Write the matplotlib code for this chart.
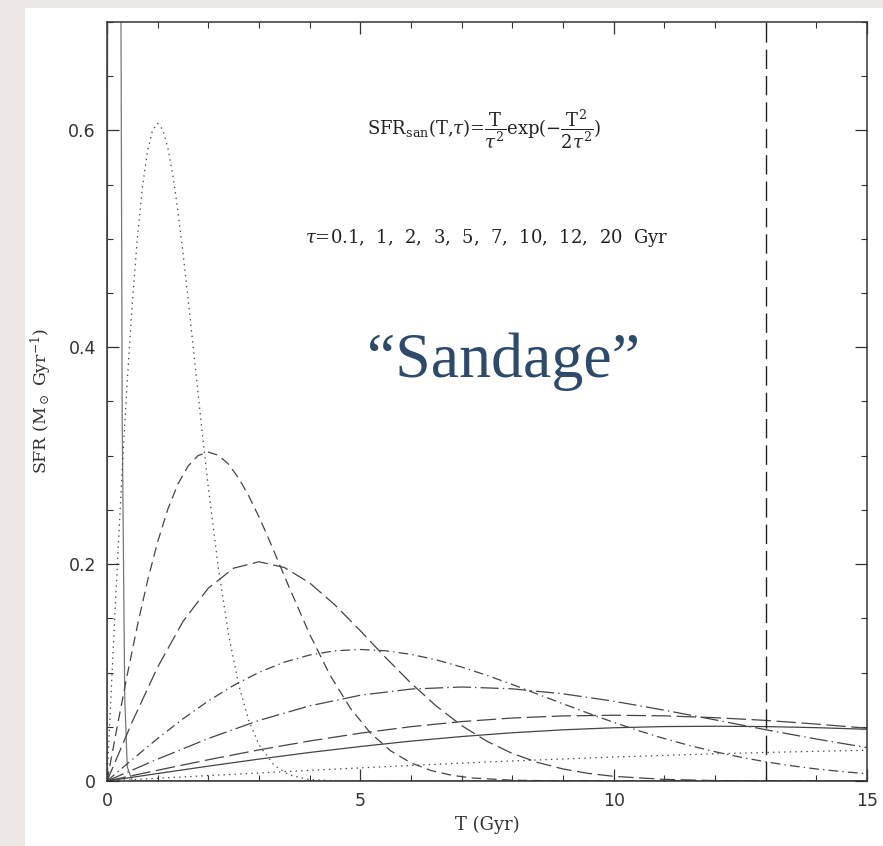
import matplotlib
matplotlib.use("Agg")
import matplotlib.pyplot as plt
from matplotlib.patches import Rectangle

# Sandage SFR curves (T in Gyr, SFR in Msun/Gyr)

# tau = 0.1 Gyr
t_01 = [0.0, 0.1, 0.2, 0.25, 0.3, 0.35, 0.4, 0.5, 15.0]
sfr_01 = [0.0, 6.07, 2.71, 1.10, 0.333, 0.077, 0.013, 0.0002, 0.0]

# tau = 1 Gyr
t_1 = [0.0, 0.1, 0.2, 0.3, 0.4, 0.5, 0.6, 0.7, 0.8, 0.9, 1.0, 1.1, 1.2,
       1.3, 1.4, 1.5, 1.6, 1.7, 1.8, 1.9, 2.0, 2.2, 2.4, 2.6, 2.8, 3.0,
       3.3, 3.6, 4.0, 4.5, 5.0, 15.0]
sfr_1 = [0.0, 0.0995, 0.196, 0.2868, 0.3692, 0.4412, 0.5012, 0.5479,
         0.5809, 0.6003, 0.6065, 0.6007, 0.5841, 0.5585, 0.5254, 0.487,
         0.4448, 0.4007, 0.3562, 0.3125, 0.2707, 0.1956, 0.1347, 0.0885,
         0.0555, 0.0333, 0.0143, 0.0055, 0.0013, 0.0002, 0.0, 0.0]

# tau = 2 Gyr
t_2 = [0.0, 0.2, 0.4, 0.6, 0.8, 1.0, 1.2, 1.4, 1.6, 1.8, 2.0, 2.2, 2.4,
       2.6, 2.8, 3.0, 3.2, 3.6, 4.0, 4.4, 4.8, 5.2, 5.6, 6.0, 6.4, 6.8,
       7.2, 8.0, 9.0, 10.0, 15.0]
sfr_2 = [0.0, 0.0498, 0.098, 0.1434, 0.1846, 0.2206, 0.2506, 0.2739,
         0.2904, 0.3002, 0.3033, 0.3004, 0.2921, 0.2792, 0.2627, 0.2435,
         0.2224, 0.1781, 0.1353, 0.0978, 0.0674, 0.0442, 0.0278, 0.0167,
         0.0096, 0.0053, 0.0028, 0.0007, 0.0001, 0.0, 0.0]

# tau = 3 Gyr
t_3 = [0.0, 0.5, 1.0, 1.5, 2.0, 2.5, 3.0, 3.5, 4.0, 4.5, 5.0, 5.5, 6.0,
       6.5, 7.0, 7.5, 8.0, 8.5, 9.0, 9.5, 10.0, 11.0, 12.0, 15.0]
sfr_3 = [0.0, 0.0548, 0.1051, 0.1471, 0.1779, 0.1963, 0.2022, 0.1969,
         0.1827, 0.1623, 0.1386, 0.1138, 0.0902, 0.0691, 0.0511, 0.0366,
         0.0254, 0.0171, 0.0111, 0.0070, 0.0043, 0.0015, 0.0004, 0.0]

# tau = 5 Gyr
t_5 = [0.0, 0.5, 1.0, 1.5, 2.0, 2.5, 3.0, 3.5, 4.0, 4.5, 5.0, 5.5, 6.0,
       6.5, 7.0, 7.5, 8.0, 8.5, 9.0, 9.5, 10.0, 10.5, 11.0, 11.5, 12.0,
       12.5, 13.0, 13.5, 14.0, 14.5, 15.0]
sfr_5 = [0.0, 0.0199, 0.0392, 0.0574, 0.0738, 0.0882, 0.1002, 0.1096,
         0.1162, 0.1201, 0.1213, 0.1201, 0.1168, 0.1117, 0.1051, 0.0974,
         0.0890, 0.0801, 0.0712, 0.0625, 0.0541, 0.0463, 0.0391, 0.0327,
         0.0270, 0.0220, 0.0177, 0.0141, 0.0111, 0.0087, 0.0067]

# broad curves, sampled every Gyr
t_yr = [0, 1, 2, 3, 4, 5, 6, 7, 8, 9, 10, 11, 12, 13, 14, 15]
sfr_7 = [0.0, 0.0202, 0.0392, 0.0559, 0.0693, 0.0791, 0.0848, 0.0867,
         0.0850, 0.0804, 0.0736, 0.0653, 0.0564, 0.0473, 0.0387, 0.0308]
sfr_10 = [0.0, 0.00995, 0.0196, 0.0287, 0.0369, 0.0441, 0.0501, 0.0548,
          0.0581, 0.0600, 0.06065, 0.0601, 0.0584, 0.0559, 0.0525, 0.0487]
sfr_12 = [0.0, 0.0069, 0.0137, 0.0202, 0.0263, 0.0318, 0.0368, 0.0410,
          0.0445, 0.0472, 0.0491, 0.0502, 0.0505, 0.0502, 0.0492, 0.0477]
sfr_20 = [0.0, 0.0025, 0.0050, 0.0074, 0.0098, 0.0121, 0.0143, 0.0165,
          0.0185, 0.0203, 0.0221, 0.0236, 0.0251, 0.0263, 0.0274, 0.0283]

t_now = 13.0  # vertical marker

plt.rcParams['lines.scale_dashes'] = False
plt.rcParams['mathtext.fontset'] = 'dejavuserif'

fig = plt.figure(figsize=(8.83, 8.46), dpi=100)
fig.patch.set_facecolor('#ebe8e3')
panel = Rectangle((25/883, 0), 1 - 25/883, 1 - 8/846,
                  transform=fig.transFigure, facecolor='white',
                  edgecolor='none', zorder=-10)
fig.add_artist(panel)

ax = fig.add_axes([107/883, 65/846, 760/883, 759/846])
lc = '#444444'
lw = 0.9

ax.plot(t_01, sfr_01, color='#777777', lw=lw, ls='-')
ax.plot(t_1, sfr_1, color=lc, lw=lw, dashes=(1.0, 3.0))
ax.plot(t_2, sfr_2, color=lc, lw=lw, dashes=(7, 4))
ax.plot(t_3, sfr_3, color=lc, lw=lw, dashes=(11, 4))
ax.plot(t_5, sfr_5, color=lc, lw=lw, dashes=(7, 3, 1, 3))
ax.plot(t_yr, sfr_7, color=lc, lw=lw, dashes=(13, 3, 1, 3))
ax.plot(t_yr, sfr_10, color=lc, lw=lw, dashes=(14, 4))
ax.plot(t_yr, sfr_12, color=lc, lw=lw, ls='-')
ax.plot(t_yr, sfr_20, color=lc, lw=lw, dashes=(1.0, 3.0))
ax.axvline(t_now, color='#222222', lw=1.0, dashes=(14, 5))

ax.set_xlim(0, 15)
ax.set_ylim(0, 0.7)
ax.set_xticks([0, 5, 10, 15])
ax.set_xticks(range(16), minor=True)
ax.set_yticks([0, 0.2, 0.4, 0.6])
ax.set_yticklabels(['0', '0.2', '0.4', '0.6'])
ax.set_yticks([i * 0.05 for i in range(15)], minor=True)
ax.tick_params(which='both', direction='in', top=True, right=True,
               color='#333333', labelsize=12.5, labelcolor='#333333')
ax.tick_params(which='major', length=8.5, width=0.9, pad=8)
ax.tick_params(which='minor', length=4, width=0.8)
for s in ax.spines.values():
    s.set_linewidth(1.1)
    s.set_color('#333333')

ax.set_xlabel('T (Gyr)', family='DejaVu Serif', fontsize=13, color='#333333',
              labelpad=4)
ax.set_ylabel(r'SFR (M$_\odot$ Gyr$^{-1}$)', family='DejaVu Serif',
              fontsize=12.5, color='#333333', labelpad=10)

ax.text(0.497, 0.858,
        r'SFR$_{\rm san}$(T,$\tau$)=$\dfrac{{\rm T}}{\tau^2}$exp($-\dfrac{{\rm T}^2}{2\tau^2}$)',
        transform=ax.transAxes, ha='center', va='center', fontsize=13,
        family='DejaVu Serif', color='#222222')
ax.text(0.5, 0.716, r'$\tau$=0.1,  1,  2,  3,  5,  7,  10,  12,  20  Gyr',
        transform=ax.transAxes, ha='center', va='center', fontsize=13,
        family='DejaVu Serif', color='#222222')
ax.text(0.522, 0.553, '\u201cSandage\u201d', transform=ax.transAxes,
        ha='center', va='center', fontsize=46, family='Liberation Serif',
        color='#2e4a6b')

fig.savefig('out.png', dpi=100, facecolor=fig.get_facecolor())
